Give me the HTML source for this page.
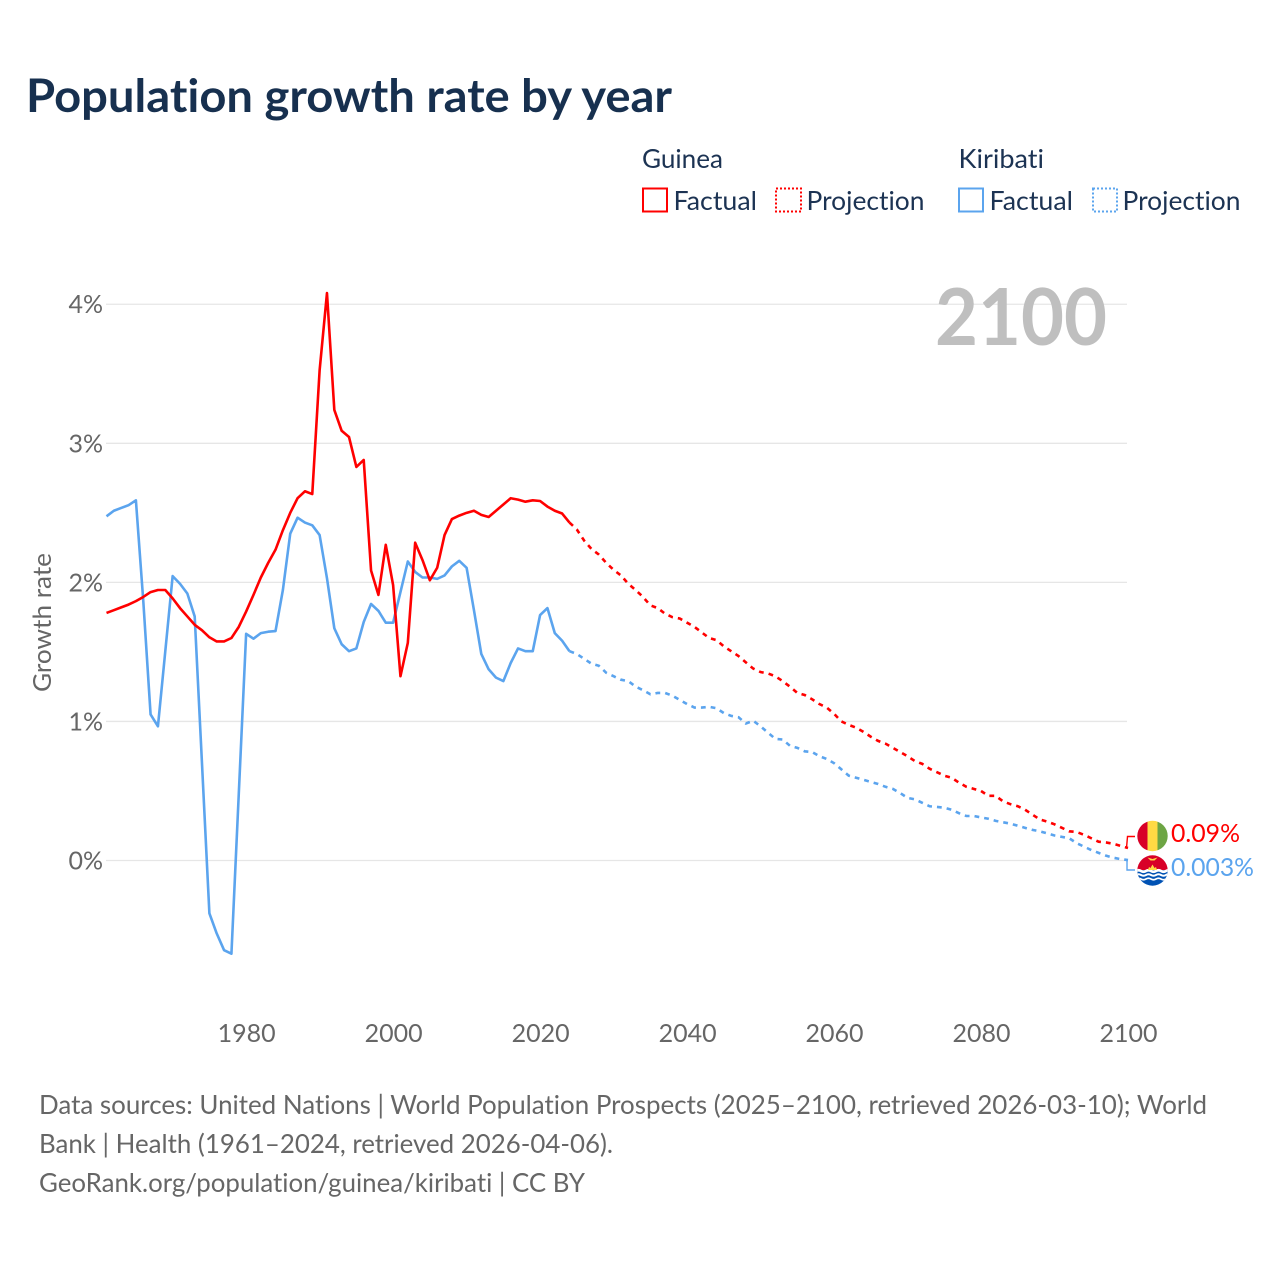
<!DOCTYPE html>
<html lang="en">
<head>
<meta charset="utf-8">
<title>Population growth rate by year</title>
<style>
html,body{margin:0;padding:0;background:#fff;width:1280px;height:1280px;overflow:hidden}
svg{display:block}
text{font-family:"Lato","Carlito","Liberation Sans",sans-serif;font-variant-ligatures:none;font-feature-settings:"liga" 0,"clig" 0}
</style>
</head>
<body>
<svg id="chart" xmlns="http://www.w3.org/2000/svg" width="1280" height="1280" viewBox="0 0 1280 1280">
  <defs>
    <clipPath id="clip-gn"><circle cx="1152.5" cy="836" r="15.2"/></clipPath>
    <clipPath id="clip-ki"><circle cx="1152.5" cy="870.5" r="15.2"/></clipPath>
  </defs>
  <rect x="0" y="0" width="1280" height="1280" fill="#ffffff"/>

  <text x="26" y="112" font-size="46" font-weight="700" fill="#17304f" textLength="646" lengthAdjust="spacingAndGlyphs">Population growth rate by year</text>

  <g font-size="26" fill="#1c3353">
    <text x="642" y="168" textLength="81" lengthAdjust="spacingAndGlyphs">Guinea</text>
    <g>
      <rect x="643" y="188.5" width="24" height="23" fill="none" stroke="#ff0000" stroke-width="2"/>
      <text x="673.500" y="210" textLength="83.500" lengthAdjust="spacingAndGlyphs">Factual</text>
    </g>
    <g>
      <rect x="776" y="188.5" width="25" height="23" fill="none" stroke="#ff0000" stroke-width="2" stroke-dasharray="2 2"/>
      <text x="806.500" y="210" textLength="118" lengthAdjust="spacingAndGlyphs">Projection</text>
    </g>
    <text x="958.500" y="168" textLength="85.500" lengthAdjust="spacingAndGlyphs">Kiribati</text>
    <g>
      <rect x="959" y="188.5" width="24" height="23" fill="none" stroke="#5ba4ee" stroke-width="2"/>
      <text x="989.500" y="210" textLength="83.500" lengthAdjust="spacingAndGlyphs">Factual</text>
    </g>
    <g>
      <rect x="1093" y="188.5" width="24" height="23" fill="none" stroke="#5ba4ee" stroke-width="2" stroke-dasharray="2 2"/>
      <text x="1122.500" y="210" textLength="118" lengthAdjust="spacingAndGlyphs">Projection</text>
    </g>
  </g>

  <g id="grid"></g>
  <text x="1107" y="345" text-anchor="end" font-size="79" font-weight="700" fill="#bfbfbf" textLength="172" lengthAdjust="spacingAndGlyphs">2100</text>
  <g id="yticks" font-size="25" fill="#666666"></g>
  <g id="xticks" font-size="25" fill="#666666"></g>
  <text transform="translate(51,622.5) rotate(-90)" text-anchor="middle" font-size="25" fill="#666666" textLength="139" lengthAdjust="spacingAndGlyphs">Growth rate</text>

  <g id="series"></g>

  <g id="end-labels">
    <g clip-path="url(#clip-gn)">
      <rect x="1137" y="820" width="10.500" height="32" fill="#d80027"/>
      <rect x="1147.500" y="820" width="10" height="32" fill="#ffda44"/>
      <rect x="1157.500" y="820" width="11" height="32" fill="#6da544"/>
    </g>
    <g clip-path="url(#clip-ki)">
      <rect x="1137" y="855" width="31" height="15" fill="#d80027"/>
      <rect x="1137" y="870" width="31" height="17" fill="#0052b4"/>
      <path d="M1136 871q2.500-1.500 5 0t5 0t5 0t5 0t5 0t5 0t5 0" fill="none" stroke="#ffffff" stroke-width="2.600"/>
      <path d="M1136 875q2.500-1.500 5 0t5 0t5 0t5 0t5 0t5 0t5 0" fill="none" stroke="#ffffff" stroke-width="2"/>
      <path d="M1136 879q2.500-1.500 5 0t5 0t5 0t5 0t5 0t5 0t5 0" fill="none" stroke="#ffffff" stroke-width="1.700"/>
      <path d="M1148 870l1-3 1.500 1 2-3.500 2 3.500 1.500-1 1 3z" fill="#ffda44"/>
      <path d="M1147.500 857.500l5 1.500 5-1.500-3 3h-4z" fill="#ffda44"/>
    </g>
    <text x="1171" y="842" font-size="25" fill="#ff0000" textLength="69" lengthAdjust="spacingAndGlyphs">0.09%</text>
    <text x="1171" y="876" font-size="25" fill="#5ba4ee" textLength="83" lengthAdjust="spacingAndGlyphs">0.003%</text>
  </g>

  <g font-size="26" fill="#666666">
    <text x="39" y="1114" textLength="1168" lengthAdjust="spacingAndGlyphs">Data sources: United Nations | World Population Prospects (2025–2100, retrieved 2026-03-10); World</text>
    <text x="39" y="1153" textLength="574" lengthAdjust="spacingAndGlyphs">Bank | Health (1961–2024, retrieved 2026-04-06).</text>
    <text x="39" y="1192" textLength="546" lengthAdjust="spacingAndGlyphs">GeoRank.org/population/guinea/kiribati | CC BY</text>
  </g>
</svg>

<script>
const factualStartYear = 1961;
const projectionStartYear = 2024;
const xTickYears = [1980, 2000, 2020, 2040, 2060, 2080, 2100];
const yTickValues = [0, 1, 2, 3, 4];

const guineaFactual = [
  1.78, 1.80, 1.82, 1.84, 1.865, 1.895, 1.93, 1.945, 1.945,
  1.885, 1.815, 1.755, 1.695, 1.655, 1.605, 1.575, 1.575, 1.60, 1.68,
  1.79, 1.91, 2.035, 2.14, 2.235, 2.375, 2.50, 2.605, 2.655, 2.635,
  3.525, 4.08, 3.24, 3.09, 3.045, 2.83, 2.88, 2.085, 1.91, 2.27,
  1.98, 1.325, 1.565, 2.285, 2.16, 2.015, 2.105, 2.34, 2.455, 2.48,
  2.50, 2.515, 2.485, 2.47, 2.515, 2.56, 2.605, 2.595, 2.58, 2.59,
  2.585, 2.545, 2.515, 2.495, 2.43
];
const guineaProjection = [
  2.43, 2.38, 2.30, 2.24, 2.20, 2.14,
  2.09, 2.05, 1.99, 1.945, 1.895, 1.835, 1.815, 1.775, 1.75, 1.74,
  1.71, 1.68, 1.64, 1.60, 1.585, 1.54, 1.505, 1.47, 1.425, 1.38,
  1.355, 1.345, 1.325, 1.29, 1.25, 1.205, 1.19, 1.16, 1.125, 1.10,
  1.055, 1.00, 0.975, 0.955, 0.925, 0.89, 0.86, 0.84, 0.81, 0.78,
  0.75, 0.715, 0.695, 0.66, 0.635, 0.61, 0.595, 0.56, 0.53, 0.515,
  0.50, 0.465, 0.465, 0.425, 0.405, 0.39, 0.365, 0.33, 0.295, 0.28,
  0.26, 0.235, 0.21, 0.205, 0.185, 0.16, 0.135, 0.13, 0.12, 0.105,
  0.09
];
const kiribatiFactual = [
  2.475, 2.515, 2.535, 2.555, 2.59, 1.87, 1.05, 0.965, 1.505,
  2.045, 1.99, 1.92, 1.755, 0.69, -0.38, -0.525, -0.645, -0.67, 0.48,
  1.63, 1.595, 1.635, 1.645, 1.65, 1.945, 2.35, 2.465, 2.43, 2.41,
  2.34, 2.03, 1.67, 1.555, 1.505, 1.525, 1.715, 1.845, 1.795, 1.71,
  1.71, 1.93, 2.15, 2.075, 2.035, 2.035, 2.025, 2.05, 2.115, 2.155,
  2.105, 1.80, 1.485, 1.375, 1.315, 1.29, 1.42, 1.525, 1.505, 1.505,
  1.765, 1.815, 1.635, 1.58, 1.505
];
const kiribatiProjection = [
  1.505, 1.485, 1.45, 1.415, 1.40, 1.35,
  1.325, 1.30, 1.29, 1.25, 1.225, 1.195, 1.205, 1.205, 1.185, 1.155,
  1.125, 1.10, 1.10, 1.105, 1.095, 1.06, 1.04, 1.03, 0.985, 1.005,
  0.965, 0.92, 0.875, 0.87, 0.825, 0.81, 0.785, 0.78, 0.75, 0.73,
  0.70, 0.655, 0.61, 0.595, 0.58, 0.565, 0.55, 0.53, 0.515, 0.485,
  0.45, 0.44, 0.415, 0.39, 0.385, 0.38, 0.365, 0.34, 0.32, 0.32,
  0.31, 0.30, 0.285, 0.275, 0.265, 0.25, 0.235, 0.22, 0.21, 0.195,
  0.18, 0.17, 0.16, 0.125, 0.10, 0.075, 0.055, 0.035, 0.02, 0.01,
  0.003
];

const SVGNS = 'http://www.w3.org/2000/svg';
const RED = '#ff0000';
const BLUE = '#5ba4ee';

function xScale(year) {
  return 106.5 + (year - 1961) * 7.349;
}
function yScale(value) {
  return 860.5 - value * 139.07;
}
function linePath(values, startYear) {
  return values.map(function (v, i) {
    return (i ? 'L' : 'M') + xScale(startYear + i).toFixed(2) + ' ' + yScale(v).toFixed(2);
  }).join('');
}

const gridGroup = document.getElementById('grid');
const yTickGroup = document.getElementById('yticks');
yTickValues.forEach(function (v) {
  const g = document.createElementNS(SVGNS, 'line');
  
  
  g.setAttribute('x1', 106);
  g.setAttribute('x2', 1127);
  g.setAttribute('y1', yScale(v));
  g.setAttribute('y2', yScale(v));
  g.setAttribute('stroke', '#e6e6e6');
  g.setAttribute('stroke-width', 1.3);
  gridGroup.appendChild(g);

  const t = document.createElementNS(SVGNS, 'text');
  
  
  t.setAttribute('x', 103);
  t.setAttribute('y', yScale(v) + 9);
  t.setAttribute('text-anchor', 'end');
  t.textContent = v + '%';
  yTickGroup.appendChild(t);
});

const xTickGroup = document.getElementById('xticks');
xTickYears.forEach(function (y) {
  const t = document.createElementNS(SVGNS, 'text');
  
  
  t.setAttribute('x', xScale(y) + 0.5);
  t.setAttribute('y', 1042);
  t.setAttribute('text-anchor', 'middle');
  t.textContent = String(y);
  xTickGroup.appendChild(t);
});

const seriesGroup = document.getElementById('series');

const guineaFactualLine = document.createElementNS(SVGNS, 'path');


guineaFactualLine.setAttribute('d', linePath(guineaFactual, factualStartYear));
guineaFactualLine.setAttribute('fill', 'none');
guineaFactualLine.setAttribute('stroke', RED);
guineaFactualLine.setAttribute('stroke-width', 2.6);
guineaFactualLine.setAttribute('stroke-linejoin', 'round');

const kiribatiFactualLine = document.createElementNS(SVGNS, 'path');


kiribatiFactualLine.setAttribute('d', linePath(kiribatiFactual, factualStartYear));
kiribatiFactualLine.setAttribute('fill', 'none');
kiribatiFactualLine.setAttribute('stroke', BLUE);
kiribatiFactualLine.setAttribute('stroke-width', 2.6);
kiribatiFactualLine.setAttribute('stroke-linejoin', 'round');

const guineaProjectionLine = document.createElementNS(SVGNS, 'path');


guineaProjectionLine.setAttribute('d', linePath(guineaProjection, projectionStartYear));
guineaProjectionLine.setAttribute('fill', 'none');
guineaProjectionLine.setAttribute('stroke', RED);
guineaProjectionLine.setAttribute('stroke-width', 2.6);
guineaProjectionLine.setAttribute('stroke-dasharray', '4.8 5');

const kiribatiProjectionLine = document.createElementNS(SVGNS, 'path');


kiribatiProjectionLine.setAttribute('d', linePath(kiribatiProjection, projectionStartYear));
kiribatiProjectionLine.setAttribute('fill', 'none');
kiribatiProjectionLine.setAttribute('stroke', BLUE);
kiribatiProjectionLine.setAttribute('stroke-width', 2.6);
kiribatiProjectionLine.setAttribute('stroke-dasharray', '4.8 5');

seriesGroup.appendChild(kiribatiFactualLine);
seriesGroup.appendChild(guineaFactualLine);
seriesGroup.appendChild(kiribatiProjectionLine);
seriesGroup.appendChild(guineaProjectionLine);

const lastYear = xTickYears[xTickYears.length - 1];
const guineaEndY = yScale(guineaProjection[guineaProjection.length - 1]);
const kiribatiEndY = yScale(kiribatiProjection[kiribatiProjection.length - 1]);

const guineaConnector = document.createElementNS(SVGNS, 'path');


guineaConnector.setAttribute('d', 'M' + (xScale(lastYear) - 1.5) + ' ' + guineaEndY + 'L' + (xScale(lastYear) - 0.5) + ' 836.5H1135');
guineaConnector.setAttribute('fill', 'none');
guineaConnector.setAttribute('stroke', RED);
guineaConnector.setAttribute('stroke-width', 1.4);
seriesGroup.appendChild(guineaConnector);

const kiribatiConnector = document.createElementNS(SVGNS, 'path');


kiribatiConnector.setAttribute('d', 'M' + (xScale(lastYear) - 1) + ' ' + kiribatiEndY + 'V870H1135');
kiribatiConnector.setAttribute('fill', 'none');
kiribatiConnector.setAttribute('stroke', BLUE);
kiribatiConnector.setAttribute('stroke-width', 1.4);
seriesGroup.appendChild(kiribatiConnector);
</script>
</body>
</html>
